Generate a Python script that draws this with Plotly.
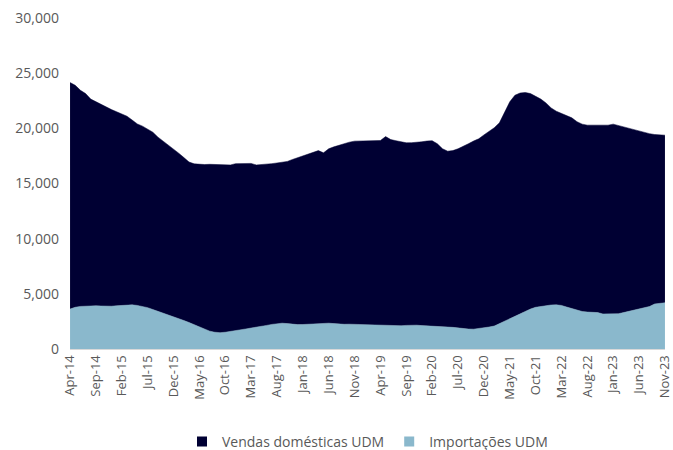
import plotly.graph_objects as go

months = ["Apr","May","Jun","Jul","Aug","Sep","Oct","Nov","Dec","Jan","Feb","Mar"]
# monthly categories Apr-14 .. Nov-23
categories = []
y, mi = 14, 0
while True:
    categories.append(f"{months[mi]}-{y:02d}")
    if months[mi] == "Nov" and y == 23:
        break
    mi += 1
    if mi == 12:
        mi = 0
    if months[mi] == "Jan":
        y += 1

total = [
24150,23900,23450,23150,22650,22400,22150,21900,21700,21500,
21300,21100,20750,20400,20200,19900,19650,19200,18850,18450,
18100,17750,17350,16950,16780,16720,16720,16740,16720,16680,
16670,16680,16800,16820,16820,16820,16680,16700,16750,16800,
16860,16930,17000,17180,17350,17500,17620,17800,17980,17780,
18150,18320,18480,18620,18750,18840,18860,18860,18870,18880,
18900,19250,18980,18880,18760,18690,18700,18720,18780,18850,
18880,18600,18150,17930,17980,18150,18350,18600,18850,19050,
19400,19750,20050,20500,21400,22400,23000,23200,23250,23150,
22900,22650,22300,21850,21550,21350,21200,20950,20600,20380,
20290,20280,20290,20300,20290,20380,20250,20120,20000,19900,
19750,19620,19520,19440,19400,19380]

importacoes = [
3620,3780,3860,3900,3920,3920,3900,3880,3880,3920,
3960,3990,4000,3950,3850,3750,3580,3420,3280,3130,
2950,2780,2580,2400,2200,2000,1780,1620,1520,1480,
1520,1580,1650,1730,1820,1900,1960,2050,2140,2230,
2300,2340,2300,2250,2210,2220,2250,2270,2300,2330,
2340,2300,2260,2240,2250,2230,2220,2200,2210,2180,
2150,2130,2110,2100,2110,2140,2170,2160,2120,2100,
2110,2060,2030,1990,1960,1900,1850,1810,1800,1850,
1920,1990,2080,2300,2550,2800,3000,3250,3450,3620,
3780,3850,3950,3990,4000,3950,3800,3680,3550,3400,
3350,3330,3300,3180,3170,3170,3200,3300,3420,3520,
3640,3750,3850,4080,4150,4190]

vendas = [t - i for t, i in zip(total, importacoes)]
tick_labels = categories[::5]

COL_VENDAS = "#000033"
COL_IMP = "#8AB8CC"

x = list(range(len(categories)))
fig = go.Figure()
fig.add_trace(go.Scatter(
    x=x, y=importacoes, name="Importações UDM", stackgroup="one", showlegend=False,
    mode="lines", line=dict(width=0.5, color=COL_IMP), fillcolor=COL_IMP,
    customdata=categories, hovertemplate="%{customdata}: %{y:,}<extra></extra>"))
fig.add_trace(go.Scatter(
    x=x, y=vendas, name="Vendas domésticas UDM", stackgroup="one", showlegend=False,
    mode="lines", line=dict(width=0.5, color=COL_VENDAS), fillcolor=COL_VENDAS,
    customdata=categories, hovertemplate="%{customdata}: %{y:,}<extra></extra>"))
# legend-only entries with square swatches
fig.add_trace(go.Scatter(x=[None], y=[None], mode="markers", name="Vendas domésticas UDM",
                         marker=dict(symbol="square", size=10, color=COL_VENDAS)))
fig.add_trace(go.Scatter(x=[None], y=[None], mode="markers", name="Importações UDM",
                         marker=dict(symbol="square", size=10, color=COL_IMP)))

fnt = dict(family="Open Sans, Liberation Sans, sans-serif", size=13, color="#595959")
fig.update_layout(
    width=673, height=450,
    margin=dict(l=70, r=8, t=18, b=101, autoexpand=False),
    paper_bgcolor="white", plot_bgcolor="white",
    font=fnt,
    showlegend=True,
    legend=dict(orientation="h", x=0.5, xanchor="center", y=-0.232, yanchor="top",
                font=dict(size=14, color="#595959"), itemwidth=30,
                traceorder="normal", tracegroupgap=0),
    xaxis=dict(
        range=[-0.01, len(categories) - 0.99],
        tickmode="array", tickvals=x[::5], ticktext=tick_labels,
        tickangle=-90, showgrid=False, zeroline=False,
        showline=True, linecolor="#D9D9D9", linewidth=1,
        ticks="", tickfont=fnt, automargin=False, ticklabeloverflow="allow"),
    yaxis=dict(
        range=[0, 30000], dtick=5000, tickformat=",",
        showgrid=False, zeroline=False, showline=False, ticks="",
        ticklabelstandoff=10, automargin=False,
        tickfont=dict(family="Open Sans, Liberation Sans, sans-serif", size=14, color="#595959")),
)
fig.write_html("out.html")
